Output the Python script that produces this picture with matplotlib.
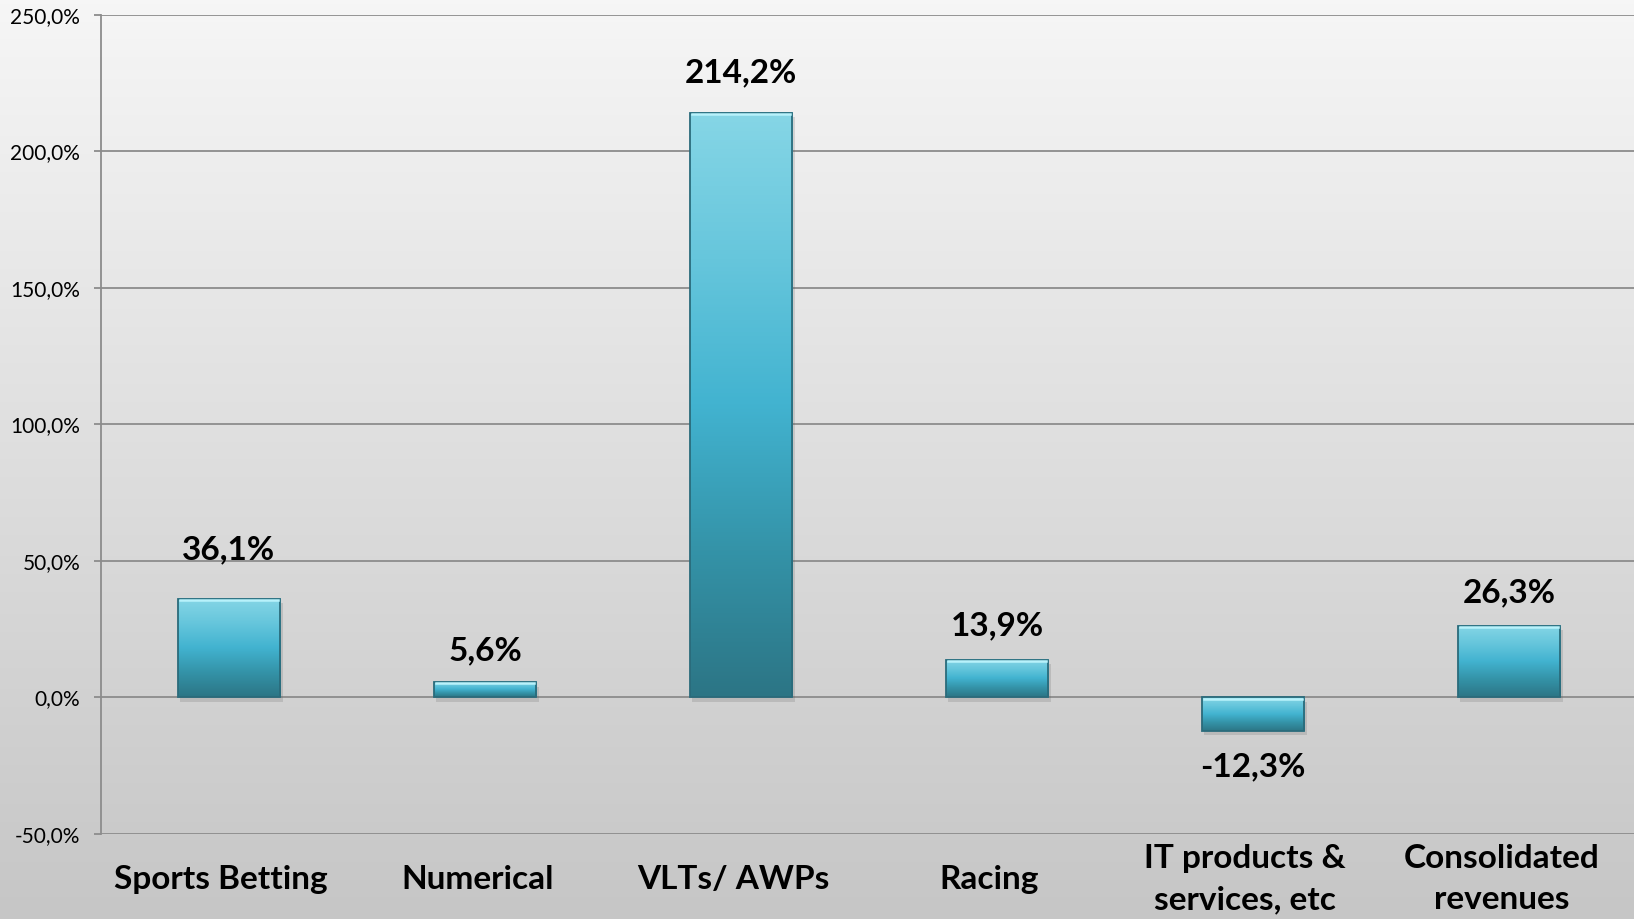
import matplotlib
matplotlib.use("Agg")
import matplotlib.pyplot as plt
from matplotlib.colors import LinearSegmentedColormap
from matplotlib.patches import Rectangle
from matplotlib.ticker import FuncFormatter, MultipleLocator
import numpy as np

categories = ["Sports Betting", "Numerical", "VLTs/ AWPs", "Racing",
              "IT products &\nservices, etc", "Consolidated\nrevenues"]
growth = [36.1, 5.6, 214.2, 13.9, -12.3, 26.3]
value_labels = ["36,1%", "5,6%", "214,2%", "13,9%", "-12,3%", "26,3%"]
# distance of each value label from the bar end, in points
label_offsets = [25, 12, 18, 14, 15, 13]

plt.rcParams['font.family'] = ['Lato', 'DejaVu Sans']

fig = plt.figure(figsize=(16.34, 9.19), dpi=100)

# background gradient over the whole figure
bg = fig.add_axes([0, 0, 1, 1], zorder=0)
bg_cmap = LinearSegmentedColormap.from_list("bg", ["#f6f6f6", "#c6c6c6"])
bg.imshow(np.linspace(0, 1, 256).reshape(-1, 1), cmap=bg_cmap, aspect='auto',
          extent=[0, 1, 0, 1], origin='upper')
bg.set_axis_off()

ax = fig.add_axes([0.0618, 0.0925, 0.94, 0.8912], zorder=1)
ax.patch.set_alpha(0)

bar_cmap = LinearSegmentedColormap.from_list(
    "bar", ["#86d6e6", "#66c6dc", "#42b3d0", "#3493a8", "#2c7585"])
width = 0.4
x = np.arange(len(categories))
grad = np.linspace(0, 1, 256).reshape(-1, 1)

for xi, v in zip(x, growth):
    lo, hi = min(0, v), max(0, v)
    # soft shadow
    ax.add_patch(Rectangle((xi - width / 2 + 0.01, lo - 1.6), width, hi - lo,
                           facecolor='#555555', alpha=0.18, lw=0, zorder=2))
    ax.imshow(grad, cmap=bar_cmap, aspect='auto', origin='upper',
              extent=[xi - width / 2, xi + width / 2, lo, hi], zorder=3)
    ax.add_patch(Rectangle((xi - width / 2, lo), width, hi - lo, fill=False,
                           edgecolor='#2a6b7b', lw=1.3, zorder=4))
    ax.plot([xi - width / 2 + 0.01, xi + width / 2 - 0.01], [hi - 0.4, hi - 0.4],
            color='#b8f2fb', lw=1.8, zorder=5)

for xi, v, lab, off in zip(x, growth, value_labels, label_offsets):
    if v >= 0:
        ax.annotate(lab, (xi, v), xytext=(0, off), textcoords='offset points',
                    ha='center', va='bottom', fontsize=24, fontweight='bold')
    else:
        ax.annotate(lab, (xi, v), xytext=(0, -off), textcoords='offset points',
                    ha='center', va='top', fontsize=24, fontweight='bold')

for xi, cat in zip(x, categories):
    ax.text(xi - 0.03, -0.055, cat, transform=ax.get_xaxis_transform(), ha='center',
            va='center', fontsize=24, fontweight='bold', linespacing=1.5)

ax.set_xlim(-0.5, 5.5)
ax.set_ylim(-50, 250)
ax.yaxis.set_major_locator(MultipleLocator(50))
ax.yaxis.set_major_formatter(FuncFormatter(lambda v, p: f"{v:.1f}%".replace('.', ',')))
ax.set_xticks([])
ax.tick_params(axis='y', labelsize=15, length=5, width=1.3, color='#8c8c8c', pad=10)
ax.yaxis.grid(True, color='#8c8c8c', lw=1.3)
ax.set_axisbelow(True)
for s in ['top', 'right', 'bottom']:
    ax.spines[s].set_visible(False)
ax.spines['left'].set_color('#8c8c8c')
ax.spines['left'].set_linewidth(1.3)

fig.savefig("out.png", dpi=100)
